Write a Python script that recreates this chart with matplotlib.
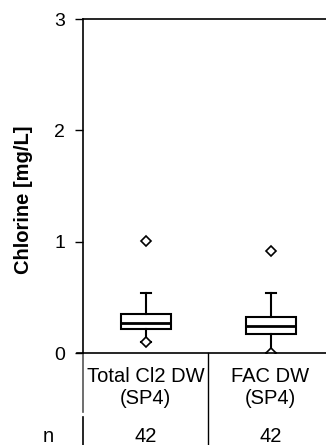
import matplotlib
matplotlib.use("Agg")
import matplotlib.pyplot as plt
from matplotlib.transforms import blended_transform_factory

plt.rcParams['font.family'] = ['Liberation Sans', 'DejaVu Sans']

# data
labels = ['Total Cl2 DW\n(SP4)', 'FAC DW\n(SP4)']
n_counts = [42, 42]
whislo = [0.10, 0.0]
q1 = [0.22, 0.17]
med = [0.265, 0.245]
q3 = [0.35, 0.32]
whishi = [0.54, 0.54]
fliers = [[1.01, 0.095], [0.92, 0.0]]

stats = []
for i in range(len(labels)):
    stats.append(dict(whislo=whislo[i], q1=q1[i], med=med[i], q3=q3[i],
                      whishi=whishi[i], fliers=fliers[i]))

W, H = 326, 445
fig = plt.figure(figsize=(W / 100, H / 100), dpi=100)
ax = fig.add_axes([83 / W, 1 - 353 / H, 250 / W, 334 / H])

ax.bxp(stats, positions=[1, 2], widths=0.4, patch_artist=True,
       boxprops=dict(facecolor='white', edgecolor='black', linewidth=1.5),
       medianprops=dict(color='black', linewidth=2),
       whiskerprops=dict(color='black', linewidth=1.5),
       capprops=dict(color='black', linewidth=1.5),
       capwidths=0.08,
       flierprops=dict(marker='D', markerfacecolor='white', markeredgecolor='black',
                       markersize=5, markeredgewidth=1.2))

ax.set_xlim(0.5, 2.5)
ax.set_ylim(0, 3)
ax.set_yticks([0, 1, 2, 3])
ax.tick_params(axis='y', labelsize=14, length=6, width=1, direction='out', pad=7)
ax.tick_params(axis='x', bottom=False, labelbottom=False)
for s in ['left', 'top', 'bottom']:
    ax.spines[s].set_linewidth(1.2)
ax.spines['right'].set_visible(False)
ax.set_ylabel('Chlorine [mg/L]', fontsize=14.5, fontweight='bold', labelpad=10)
ax.yaxis.set_label_coords(-0.2, 0.46)

# table below the plot
tr = blended_transform_factory(ax.transData, ax.transAxes)
ax.plot([0.5, 0.5], [0, -0.177], transform=tr, color='#555555', lw=1.2, clip_on=False)
ax.plot([0.5, 0.5], [-0.192, -0.3], transform=tr, color='black', lw=1.2, clip_on=False)
ax.plot([1.5, 1.5], [0, -0.3], transform=tr, color='black', lw=1, clip_on=False)
ax.plot([0.45, 0.5], [0, 0], transform=tr, color='black', lw=1.2, clip_on=False)
for i, lab in enumerate(labels):
    ax.text(i + 1, -0.104, lab, transform=tr, ha='center', va='center', fontsize=14.5,
            linespacing=1.2)
    ax.text(i + 1, -0.25, str(n_counts[i]), transform=tr, ha='center', va='center',
            fontsize=14.5)
ax.text(48 / W, 1 - 437 / H, 'n', transform=fig.transFigure, ha='center', va='center',
        fontsize=14.5)

fig.savefig('out.png', dpi=100)
